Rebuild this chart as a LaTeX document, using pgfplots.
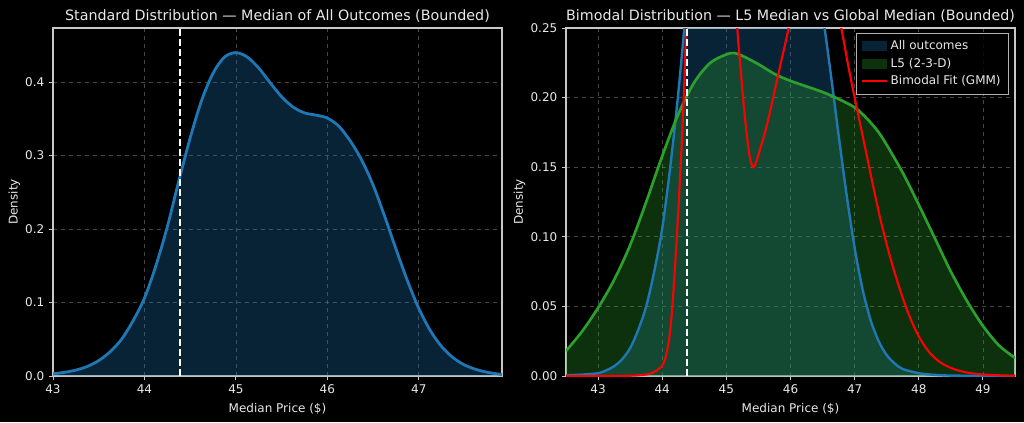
\documentclass[border=0pt]{standalone}
\usepackage{fontspec}
\setmainfont{DejaVu Sans}
\usepackage{pgfplots}
\pgfplotsset{compat=1.18}
\definecolor{tabblue}{RGB}{31,119,180}
\definecolor{tabgreen}{RGB}{44,160,44}
\definecolor{spine}{RGB}{200,200,200}
\definecolor{txt}{RGB}{232,232,232}
\pgfplotsset{
  darkax/.style={
    scale only axis, width=336.75pt, height=261pt, anchor=south west,
    axis background/.style={fill=black},
    axis line style={spine, line width=0.9pt},
    tick style={spine, line width=0.7pt},
    tick align=outside, major tick length=3pt,
    xtick pos=bottom, ytick pos=left,
    grid=major, grid style={dashed, gray, opacity=0.55, line width=0.5pt},
    tick label style={font=\fontsize{9}{11}\selectfont, text=txt},
    label style={font=\fontsize{9}{11}\selectfont, text=txt},
    ylabel style={yshift=-3pt},
    title style={font=\fontsize{10.7}{13}\selectfont, text=txt, yshift=-5pt},
    /pgf/number format/assume math mode=true,
    xlabel={Median Price (\$)}, ylabel={Density},
  },
  patchleg/.style={legend image code/.code={\fill[##1] (0pt,-3.5pt) rectangle (19pt,4pt);}},
  lineleg/.style={legend image code/.code={\draw[##1] (0pt,0pt) -- (19pt,0pt);}},
}
\pgfplotstableread{
x y
43.000 0.003
43.125 0.005
43.250 0.008
43.375 0.013
43.500 0.021
43.625 0.033
43.750 0.050
43.875 0.075
44.000 0.106
44.125 0.150
44.250 0.203
44.375 0.265
44.500 0.324
44.625 0.375
44.750 0.412
44.875 0.434
45.000 0.440
45.125 0.434
45.250 0.419
45.375 0.399
45.500 0.380
45.625 0.366
45.750 0.358
45.875 0.355
46.000 0.351
46.125 0.340
46.250 0.320
46.375 0.294
46.500 0.260
46.625 0.218
46.750 0.173
46.875 0.130
47.000 0.092
47.125 0.062
47.250 0.040
47.375 0.025
47.500 0.015
47.625 0.009
47.750 0.005
47.910 0.002
}\alltab
\pgfplotstableread{
x y
42.500 0.0005
42.750 0.0010
43.000 0.0020
43.125 0.004
43.250 0.007
43.375 0.012
43.500 0.020
43.625 0.033
43.750 0.050
43.875 0.075
44.000 0.106
44.125 0.150
44.250 0.203
44.375 0.265
44.500 0.324
44.625 0.375
44.750 0.412
44.875 0.434
45.000 0.440
45.125 0.434
45.250 0.419
45.375 0.399
45.500 0.380
45.625 0.366
45.750 0.358
45.875 0.355
46.000 0.351
46.125 0.340
46.250 0.320
46.375 0.294
46.500 0.260
46.625 0.218
46.750 0.173
46.875 0.130
47.000 0.092
47.125 0.062
47.250 0.040
47.375 0.025
47.500 0.015
47.625 0.009
47.750 0.005
48.000 0.0020
48.250 0.0008
48.500 0.0003
49.000 0.0001
49.500 0.0000
}\allwide
\pgfplotstableread{
x y
42.500 0.018
42.750 0.032
43.000 0.049
43.250 0.069
43.500 0.094
43.750 0.125
44.000 0.158
44.250 0.188
44.500 0.211
44.750 0.225
45.000 0.231
45.125 0.232
45.250 0.230
45.500 0.224
45.750 0.217
46.000 0.212
46.250 0.208
46.500 0.204
46.750 0.199
47.000 0.193
47.125 0.188
47.250 0.182
47.375 0.175
47.500 0.166
47.750 0.146
48.000 0.123
48.250 0.099
48.500 0.075
48.750 0.054
49.000 0.036
49.250 0.022
49.500 0.013
}\lfivetab
\pgfplotstableread{
x y
42.50 0.0000
43.00 0.0000
43.50 0.0002
43.70 0.0008
43.80 0.0015
43.90 0.0035
44.00 0.0075
44.05 0.013
44.10 0.024
44.15 0.045
44.20 0.079
44.25 0.118
44.30 0.163
44.34 0.205
44.37 0.245
44.45 0.360
44.55 0.500
44.65 0.600
44.75 0.630
44.85 0.600
44.95 0.500
45.05 0.370
45.12 0.295
45.17 0.250
45.22 0.222
45.26 0.200
45.30 0.181
45.34 0.165
45.38 0.154
45.42 0.150
45.46 0.153
45.52 0.162
45.62 0.178
45.73 0.200
45.85 0.225
45.97 0.250
46.05 0.275
46.20 0.305
46.35 0.318
46.50 0.310
46.65 0.282
46.80 0.248
46.90 0.223
47.00 0.200
47.10 0.178
47.20 0.156
47.30 0.134
47.40 0.113
47.50 0.0945
47.60 0.0780
47.70 0.0630
47.80 0.0495
47.90 0.0380
48.00 0.0285
48.10 0.0210
48.20 0.0152
48.30 0.0110
48.40 0.0080
48.50 0.0058
48.60 0.0042
48.70 0.0030
48.80 0.0021
48.90 0.0015
49.00 0.0011
49.25 0.0005
49.50 0.0002
}\gmmtab
\begin{document}
\begin{tikzpicture}
\fill[black] (0,0) rectangle (768pt,316.5pt);
\begin{axis}[darkax, at={(39.75pt,34.5pt)},
  title={Standard Distribution — Median of All Outcomes (Bounded)},
  xmin=43, xmax=47.91, ymin=0, ymax=0.4735,
  xtick={43,44,45,46,47},
  ytick={0,0.1,0.2,0.3,0.4},
  yticklabel style={/pgf/number format/.cd, fixed, fixed zerofill, precision=1},
]
\addplot[fill=tabblue, fill opacity=0.3, draw=none, smooth] table {\alltab} \closedcycle;
\addplot[tabblue, line width=2.1pt, smooth] table {\alltab};
\addplot[white, line width=1.4pt, dash pattern=on 5pt off 2.5pt] coordinates {(44.39,0) (44.39,0.4735)};
\end{axis}
\begin{axis}[darkax, at={(424.5pt,34.5pt)},
  title={Bimodal Distribution — L5 Median vs Global Median (Bounded)},
  xmin=42.5, xmax=49.5, ymin=0, ymax=0.25,
  xtick={43,44,45,46,47,48,49},
  ytick={0,0.05,0.1,0.15,0.2,0.25},
  yticklabel style={/pgf/number format/.cd, fixed, fixed zerofill, precision=2},
  legend style={at={(0.985,0.985)}, anchor=north east, fill=black, fill opacity=0.8, text opacity=1,
    draw=gray!60, font=\fontsize{9}{11}\selectfont, text=txt, row sep=0.8pt,
    inner sep=3.5pt},
  legend cell align=left,
]
\addplot[fill=tabblue, fill opacity=0.3, draw=none, smooth, patchleg] table {\allwide} \closedcycle;
\addlegendentry{All outcomes}
\addplot[fill=tabgreen, fill opacity=0.3, draw=none, smooth, patchleg] table {\lfivetab} \closedcycle;
\addlegendentry{L5 (2-3-D)}
\addplot[tabblue, line width=1.8pt, smooth, forget plot] table {\allwide};
\addplot[tabgreen, line width=2pt, smooth, forget plot] table {\lfivetab};
\addplot[red, line width=1.6pt, smooth, lineleg] table {\gmmtab};
\addlegendentry{Bimodal Fit (GMM)}
\addplot[white, line width=1.4pt, dash pattern=on 5pt off 2.5pt, forget plot] coordinates {(44.39,0) (44.39,0.25)};
\end{axis}
\end{tikzpicture}
\end{document}
